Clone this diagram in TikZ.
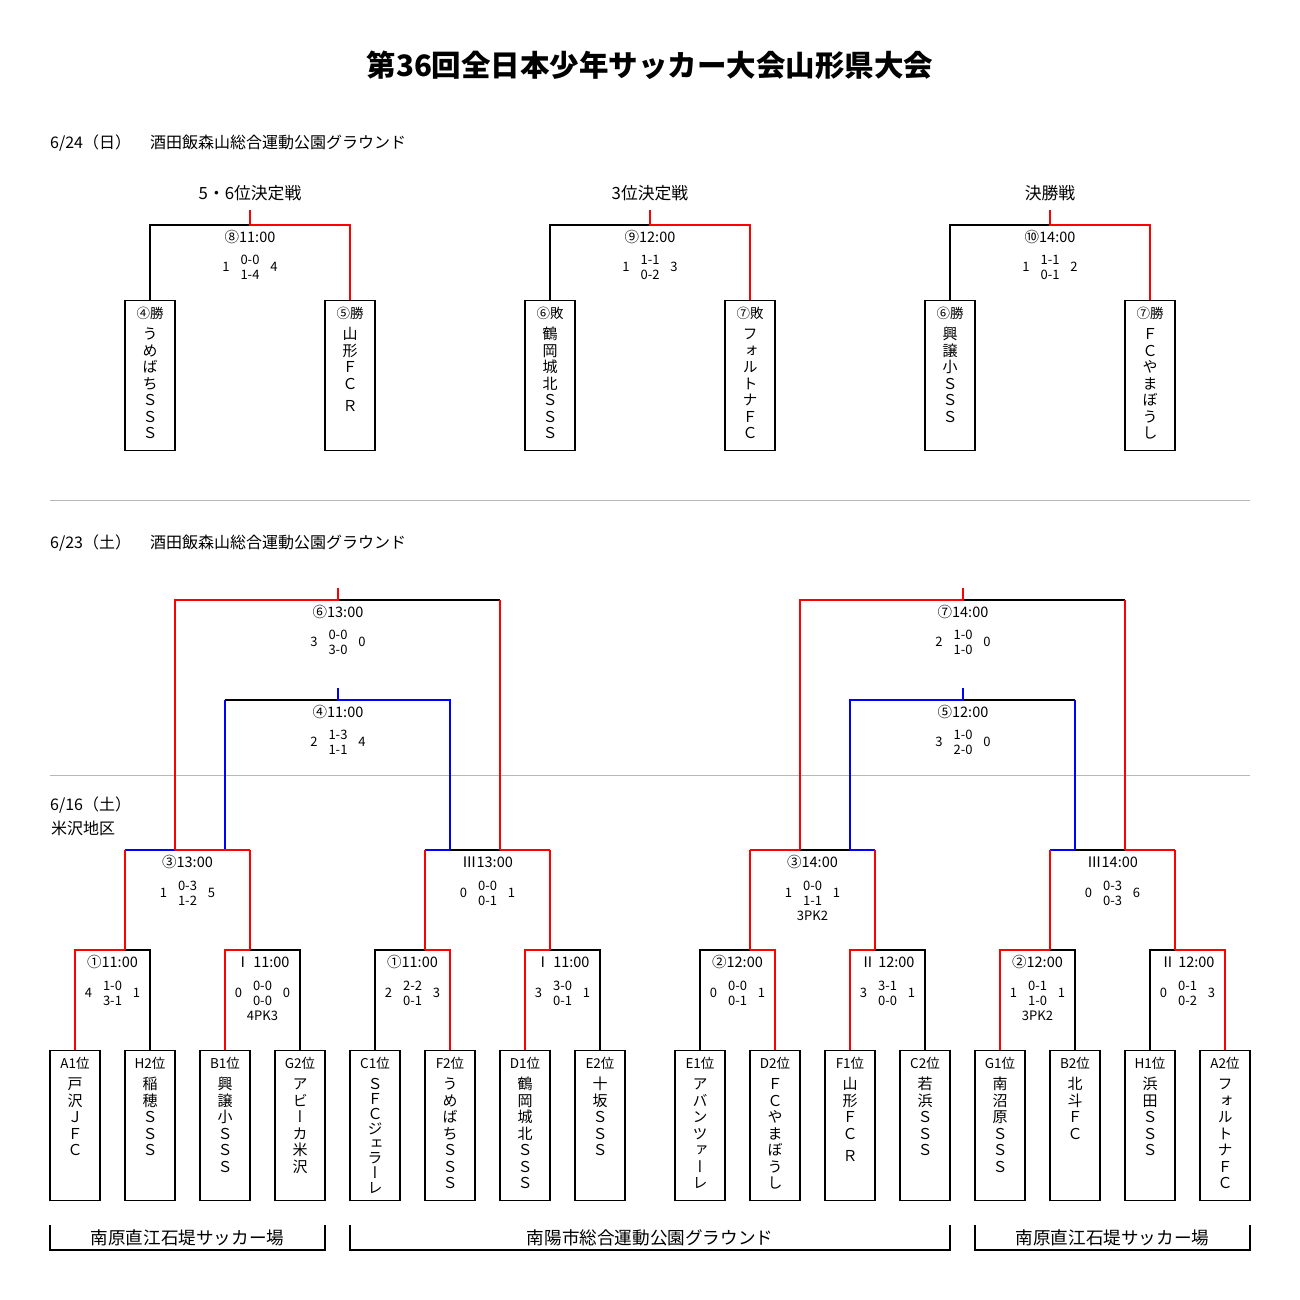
\documentclass[tikz,border=0pt]{standalone}
\usepackage{fontspec}
\setmainfont{Noto Sans CJK JP}
\newfontfamily\jpvert{Noto Sans CJK JP}[RawFeature=+vert]
\tikzset{
 blk/.style={line width=1.3pt, black},
 redln/.style={line width=1.8pt, red},
 bluln/.style={line width=1.8pt, blue},
 sepln/.style={line width=1pt, black!28},
 tbox/.style={draw, line width=1.3pt, minimum width=50pt, minimum height=150pt, inner sep=0pt},
 tlab/.style={font=\fontsize{13.5}{14}\selectfont, inner sep=0pt},
 tname/.style={font=\jpvert\fontsize{15}{16.5}\selectfont, align=center, inner sep=0pt, anchor=north},
 mlab/.style={font=\fontsize{14.5}{15}\selectfont, inner sep=0pt},
 scn/.style={font=\fontsize{13}{15}\selectfont, inner sep=0pt, align=center},
 head/.style={font=\fontsize{16.8}{17}\selectfont, inner sep=0pt},
 datel/.style={font=\fontsize{16}{16}\selectfont, inner sep=0pt, anchor=west},
 venue/.style={font=\fontsize{17.6}{18}\selectfont, inner sep=0pt},
 ttl/.style={font=\fontsize{29.5}{30}\selectfont\bfseries, inner sep=0pt},
}
% team box: name, x, ytop, label, stacked text
\newcommand\team[5]{%
 \node[tbox, anchor=north] (#1) at (#2,#3) {};
 \node[tlab] (#1l) at (#2,#3+13) {#4};
 \node[tname] (#1n) at (#2,#3+25.7) {\rule{0pt}{14pt}#5};
}
% score: name, x, y, L, a, b, R
\newcommand\scr[7]{%
 \node[scn] (#1L) at (#2-24,#3) {#4};
 \node[scn] (#1S) at (#2,#3) {#5\\#6};
 \node[scn] (#1R) at (#2+24,#3) {#7};
}
% first round: id, left box, right box, junction x, left style, right style
\newcommand\frd[6]{%
 \coordinate (#1j) at (#4,950);
 \coordinate (#1l) at (#2.north |- #1j);
 \coordinate (#1r) at (#3.north |- #1j);
 \draw[#5] (#1j) -- (#1l) -- (#2.north);
 \draw[#6] (#1j) -- (#1r) -- (#3.north);
}
\begin{document}
\begin{tikzpicture}[x=1pt,y=-1pt]
\useasboundingbox[fill=white] (0,0) rectangle (1300,1300);

\node[ttl] (title) at (650,65) {第36回全日本少年サッカー大会山形県大会};
\node[datel] (d1) at (50,143) {6/24（日）\hspace{19pt}酒田飯森山総合運動公園グラウンド};
\node[datel] (d2) at (50,543) {6/23（土）\hspace{19pt}酒田飯森山総合運動公園グラウンド};
\node[datel] (d3) at (50,805) {6/16（土）};
\node[datel] (d4) at (51,828) {米沢地区};

\coordinate (sepAl) at (50,500); \coordinate (sepAr) at (1250,500);
\coordinate (sepBl) at (50,775); \coordinate (sepBr) at (1250,775);
\draw[sepln] (sepAl) -- (sepAr);
\draw[sepln] (sepBl) -- (sepBr);

% ---------------- finals 6/24
\node[head] (h1) at (250,193) {5・6位決定戦};
\node[head] (h2) at (650,193) {3位決定戦};
\node[head] (h3) at (1050,193) {決勝戦};

\team{tA}{150}{300}{④勝}{う\\め\\ば\\ち\\Ｓ\\Ｓ\\Ｓ}
\team{tB}{350}{300}{⑤勝}{山\\形\\Ｆ\\Ｃ\\[6pt]Ｒ}
\team{tC}{550}{300}{⑥敗}{鶴\\岡\\城\\北\\Ｓ\\Ｓ\\Ｓ}
\team{tD}{750}{300}{⑦敗}{フ\\ォ\\ル\\ト\\ナ\\Ｆ\\Ｃ}
\team{tE}{950}{300}{⑥勝}{興\\譲\\小\\Ｓ\\Ｓ\\Ｓ}
\team{tF}{1150}{300}{⑦勝}{Ｆ\\Ｃ\\や\\ま\\ぼ\\う\\し}

\coordinate (k1s) at (250,210); \coordinate (k1m) at (250,225);
\coordinate (k1l) at (150,225); \coordinate (k1r) at (350,225);
\coordinate (k2s) at (650,210); \coordinate (k2m) at (650,225);
\coordinate (k2l) at (550,225); \coordinate (k2r) at (750,225);
\coordinate (k3s) at (1050,210); \coordinate (k3m) at (1050,225);
\coordinate (k3l) at (950,225); \coordinate (k3r) at (1150,225);
\draw[blk] (k1m) -- (k1l) -- (tA.north);
\draw[redln] (k1s) -- (k1m) -- (k1r) -- (tB.north);
\draw[blk] (k2m) -- (k2l) -- (tC.north);
\draw[redln] (k2s) -- (k2m) -- (k2r) -- (tD.north);
\draw[blk] (k3m) -- (k3l) -- (tE.north);
\draw[redln] (k3s) -- (k3m) -- (k3r) -- (tF.north);

\node[mlab] (m8) at (250,237) {⑧11:00};
\scr{s8}{250}{267}{1}{0-0}{1-4}{4}
\node[mlab] (m9) at (650,237) {⑨12:00};
\scr{s9}{650}{267}{1}{1-1}{0-2}{3}
\node[mlab] (m10) at (1050,237) {⑩14:00};
\scr{s10}{1050}{267}{1}{1-1}{0-1}{2}

% ---------------- team boxes 6/16
\team{b1}{75}{1050}{A1位}{戸\\沢\\Ｊ\\Ｆ\\Ｃ}
\team{b2}{150}{1050}{H2位}{稲\\穂\\Ｓ\\Ｓ\\Ｓ}
\team{b3}{225}{1050}{B1位}{興\\譲\\小\\Ｓ\\Ｓ\\Ｓ}
\team{b4}{300}{1050}{G2位}{ア\\ビ\\ー\\カ\\米\\沢}
\team{b5}{375}{1050}{C1位}{Ｓ\\[-1.7pt]Ｆ\\[-1.7pt]Ｃ\\[-1.7pt]ジ\\[-1.7pt]ェ\\[-1.7pt]ラ\\[-1.7pt]ー\\[-1.7pt]レ}
\team{b6}{450}{1050}{F2位}{う\\め\\ば\\ち\\Ｓ\\Ｓ\\Ｓ}
\team{b7}{525}{1050}{D1位}{鶴\\岡\\城\\北\\Ｓ\\Ｓ\\Ｓ}
\team{b8}{600}{1050}{E2位}{十\\坂\\Ｓ\\Ｓ\\Ｓ}
\team{b9}{700}{1050}{E1位}{ア\\バ\\ン\\ツ\\ァ\\ー\\レ}
\team{b10}{775}{1050}{D2位}{Ｆ\\Ｃ\\や\\ま\\ぼ\\う\\し}
\team{b11}{850}{1050}{F1位}{山\\形\\Ｆ\\Ｃ\\[6pt]Ｒ}
\team{b12}{925}{1050}{C2位}{若\\浜\\Ｓ\\Ｓ\\Ｓ}
\team{b13}{1000}{1050}{G1位}{南\\沼\\原\\Ｓ\\Ｓ\\Ｓ}
\team{b14}{1075}{1050}{B2位}{北\\斗\\Ｆ\\Ｃ}
\team{b15}{1150}{1050}{H1位}{浜\\田\\Ｓ\\Ｓ\\Ｓ}
\team{b16}{1225}{1050}{A2位}{フ\\ォ\\ル\\ト\\ナ\\Ｆ\\Ｃ}

% first round
\frd{f1}{b1}{b2}{125}{redln}{blk}
\frd{f2}{b3}{b4}{250}{redln}{blk}
\frd{f3}{b5}{b6}{425}{blk}{redln}
\frd{f4}{b7}{b8}{550}{redln}{blk}
\frd{f5}{b9}{b10}{750}{blk}{redln}
\frd{f6}{b11}{b12}{875}{redln}{blk}
\frd{f7}{b13}{b14}{1050}{redln}{blk}
\frd{f8}{b15}{b16}{1175}{blk}{redln}

% second round coordinates
\coordinate (s3a) at (125,850); \coordinate (s3b) at (175,850);
\coordinate (s3c) at (225,850); \coordinate (s3d) at (250,850);
\coordinate (s4a) at (425,850); \coordinate (s4b) at (450,850);
\coordinate (s4c) at (500,850); \coordinate (s4d) at (550,850);
\coordinate (s5a) at (750,850); \coordinate (s5b) at (800,850);
\coordinate (s5c) at (850,850); \coordinate (s5d) at (875,850);
\coordinate (s6a) at (1050,850); \coordinate (s6b) at (1075,850);
\coordinate (s6c) at (1125,850); \coordinate (s6d) at (1175,850);
% upper matches
\coordinate (q6s) at (338,588); \coordinate (q6m) at (338,600);
\coordinate (q6l) at (175,600); \coordinate (q6r) at (500,600);
\coordinate (q4s) at (338,688); \coordinate (q4m) at (338,700);
\coordinate (q4l) at (225,700); \coordinate (q4r) at (450,700);
\coordinate (q7s) at (963,588); \coordinate (q7m) at (963,600);
\coordinate (q7l) at (800,600); \coordinate (q7r) at (1125,600);
\coordinate (q5s) at (963,688); \coordinate (q5m) at (963,700);
\coordinate (q5l) at (850,700); \coordinate (q5r) at (1075,700);

% black parts
\draw[blk] (q6m) -- (q6r);
\draw[blk] (q4m) -- (q4l);
\draw[blk] (s4b) -- (s4c);
\draw[blk] (q7m) -- (q7r);
\draw[blk] (q5m) -- (q5r);
\draw[blk] (s5b) -- (s5c);
\draw[blk] (s6b) -- (s6c);
% blue parts
\draw[bluln] (q4s) -- (q4m) -- (q4r) -- (s4b);
\draw[bluln] (q4l) -- (s3c);
\draw[bluln] (s3a) -- (s3b);
\draw[bluln] (s4a) -- (s4b);
\draw[bluln] (q5s) -- (q5m) -- (q5l) -- (s5c);
\draw[bluln] (q5r) -- (s6b);
\draw[bluln] (s5c) -- (s5d);
\draw[bluln] (s6a) -- (s6b);
% red parts
\draw[redln] (q6s) -- (q6m) -- (q6l) -- (s3b);
\draw[redln] (q6r) -- (s4c);
\draw[redln] (s3b) -- (s3d);
\draw[redln] (s3a) -- (f1j);
\draw[redln] (s3d) -- (f2j);
\draw[redln] (s4c) -- (s4d);
\draw[redln] (s4a) -- (f3j);
\draw[redln] (s4d) -- (f4j);
\draw[redln] (q7s) -- (q7m) -- (q7l) -- (s5b);
\draw[redln] (q7r) -- (s6c);
\draw[redln] (s5a) -- (s5b);
\draw[redln] (s5a) -- (f5j);
\draw[redln] (s5d) -- (f6j);
\draw[redln] (s6c) -- (s6d);
\draw[redln] (s6a) -- (f7j);
\draw[redln] (s6d) -- (f8j);

% match texts
\node[mlab] (m6) at (338,612) {⑥13:00};
\scr{s6}{338}{642}{3}{0-0}{3-0}{0}
\node[mlab] (m4) at (338,712) {④11:00};
\scr{s4}{338}{742}{2}{1-3}{1-1}{4}
\node[mlab] (m7) at (963,612) {⑦14:00};
\scr{s7}{963}{642}{2}{1-0}{1-0}{0}
\node[mlab] (m5) at (963,712) {⑤12:00};
\scr{s5}{963}{742}{3}{1-0}{2-0}{0}

\node[mlab] (r3a) at (187.5,862) {③13:00};
\scr{t3a}{187.5}{893}{1}{0-3}{1-2}{5}
\node[mlab] (r3b) at (487.5,862) {Ⅲ13:00};
\scr{t3b}{487.5}{893}{0}{0-0}{0-1}{1}
\node[mlab] (r3c) at (812.5,862) {③14:00};
\scr{t3c}{812.5}{893}{1}{0-0}{1-1}{1}
\node[scn] (pk3c) at (812.5,915.5) {3PK2};
\node[mlab] (r3d) at (1112.5,862) {Ⅲ14:00};
\scr{t3d}{1112.5}{893}{0}{0-3}{0-3}{6}

\node[mlab] (r1a) at (112.5,962) {①11:00};
\scr{u1}{112.5}{993}{4}{1-0}{3-1}{1}
\node[mlab] (r1b) at (262.5,962) {Ⅰ 11:00};
\scr{u2}{262.5}{993}{0}{0-0}{0-0}{0}
\node[scn] (pku2) at (262.5,1015.5) {4PK3};
\node[mlab] (r1c) at (412.5,962) {①11:00};
\scr{u3}{412.5}{993}{2}{2-2}{0-1}{3}
\node[mlab] (r1d) at (562.5,962) {Ⅰ 11:00};
\scr{u4}{562.5}{993}{3}{3-0}{0-1}{1}
\node[mlab] (r1e) at (737.5,962) {②12:00};
\scr{u5}{737.5}{993}{0}{0-0}{0-1}{1}
\node[mlab] (r1f) at (887.5,962) {Ⅱ 12:00};
\scr{u6}{887.5}{993}{3}{3-1}{0-0}{1}
\node[mlab] (r1g) at (1037.5,962) {②12:00};
\scr{u7}{1037.5}{993}{1}{0-1}{1-0}{1}
\node[scn] (pku7) at (1037.5,1015.5) {3PK2};
\node[mlab] (r1h) at (1187.5,962) {Ⅱ 12:00};
\scr{u8}{1187.5}{993}{0}{0-1}{0-2}{3}

% venues
\coordinate (v1a) at (50,1225); \coordinate (v1b) at (50,1250);
\coordinate (v1c) at (325,1250); \coordinate (v1d) at (325,1225);
\coordinate (v2a) at (350,1225); \coordinate (v2b) at (350,1250);
\coordinate (v2c) at (950,1250); \coordinate (v2d) at (950,1225);
\coordinate (v3a) at (975,1225); \coordinate (v3b) at (975,1250);
\coordinate (v3c) at (1250,1250); \coordinate (v3d) at (1250,1225);
\draw[blk] (v1a) -- (v1b) -- (v1c) -- (v1d);
\draw[blk] (v2a) -- (v2b) -- (v2c) -- (v2d);
\draw[blk] (v3a) -- (v3b) -- (v3c) -- (v3d);
\node[venue] (vt1) at (187.5,1238) {南原直江石堤サッカー場};
\node[venue] (vt2) at (650,1238) {南陽市総合運動公園グラウンド};
\node[venue] (vt3) at (1112.5,1238) {南原直江石堤サッカー場};
\end{tikzpicture}
\end{document}
